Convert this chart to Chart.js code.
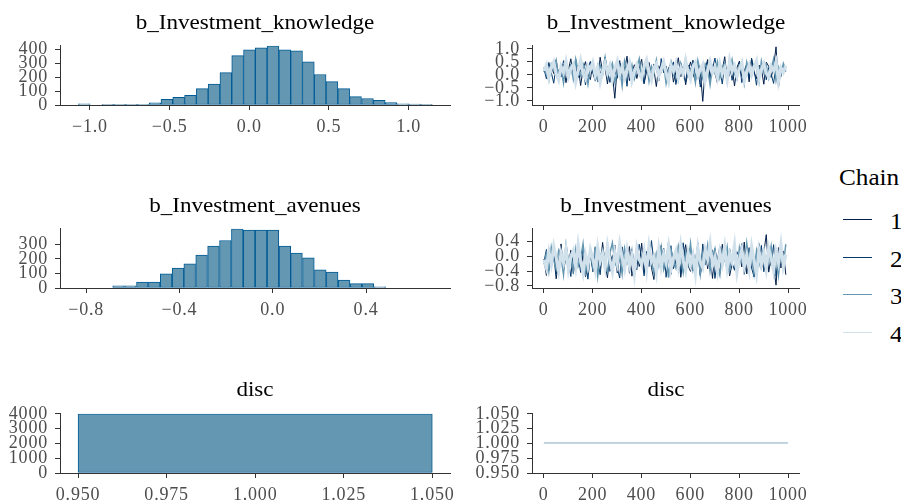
<!DOCTYPE html>
<html>
<head>
<meta charset="utf-8">
<script src="https://cdn.jsdelivr.net/npm/chart.js@4.4.1/dist/chart.umd.min.js"></script>
<style>
  html, body { margin: 0; padding: 0; background: #ffffff; }
  #root { position: relative; width: 901px; height: 502px; overflow: hidden;
          font-family: "Liberation Serif", "Times New Roman", serif; }
  canvas { position: absolute; }
  .title { position: absolute; width: 400px; text-align: center; white-space: nowrap;
           font-size: 21px; line-height: 21px; color: #000; transform: scaleX(1.1);
           transform-origin: center; z-index: 2; }
  .leg { position: absolute; font-size: 22.5px; line-height: 22.5px; color: #000;
         transform: scaleX(1.12); transform-origin: left; white-space: nowrap; z-index: 2; }
  .key { position: absolute; height: 0; width: 29px; border-top: 1.3px solid; z-index: 2; }
</style>
</head>
<body>
<div id="root"></div>
<script>
// ---------------- DATA ----------------
const parameterNames = ["b_Investment_knowledge", "b_Investment_avenues", "disc"];
const chainNames = ["1", "2", "3", "4"];

// Histogram bins (centres) and counts
const knowHistBins = [-1.036, -0.962, -0.888, -0.814, -0.740, -0.666, -0.591, -0.517, -0.443, -0.369,
                      -0.295, -0.221, -0.147, -0.073, 0.001, 0.075, 0.149, 0.223, 0.297, 0.371,
                      0.445, 0.519, 0.593, 0.667, 0.742, 0.816, 0.890, 0.964, 1.038, 1.112];
const knowHistCounts = [8, 0, 5, 5, 5, 5, 15, 40, 55, 70,
                        118, 150, 233, 356, 398, 413, 427, 398, 391, 311,
                        220, 169, 118, 60, 47, 33, 18, 9, 6, 5];

const avenHistBins = [-0.661, -0.610, -0.559, -0.508, -0.457, -0.406, -0.356, -0.305, -0.254, -0.203,
                      -0.152, -0.101, -0.050, 0.001, 0.052, 0.102, 0.153, 0.204, 0.255, 0.306,
                      0.357, 0.408, 0.459];
const avenHistCounts = [15, 15, 40, 40, 97, 137, 165, 226, 288, 326,
                        406, 397, 397, 397, 288, 239, 207, 125, 110, 55,
                        30, 30, 8];

const discHistBins = [1.0];
const discHistCounts = [4000];
const discBinWidth = 0.1;

// Trace plots: iterations kept (every 10th draw) and chain values
const traceIterations = [
  1, 11, 21, 31, 41, 51, 61, 71, 81, 91,
  101, 111, 121, 131, 141, 151, 161, 171, 181, 191,
  201, 211, 221, 231, 241, 251, 261, 271, 281, 291,
  301, 311, 321, 331, 341, 351, 361, 371, 381, 391,
  401, 411, 421, 431, 441, 451, 461, 471, 481, 491,
  501, 511, 521, 531, 541, 551, 561, 571, 581, 591,
  601, 611, 621, 631, 641, 651, 661, 671, 681, 691,
  701, 711, 721, 731, 741, 751, 761, 771, 781, 791,
  801, 811, 821, 831, 841, 851, 861, 871, 881, 891,
  901, 911, 921, 931, 941, 951, 961, 971, 981, 991];

const knowChain1 = [
  0.12, 0.45, -0.21, 0.33, 0.05, 0.58, -0.12, 0.27, 0.41, -0.30,
  0.19, 0.62, -0.05, 0.08, 0.37, -0.41, 0.22, 0.51, 0.01, -0.18,
  0.44, 0.15, -0.26, 0.68, 0.10, 0.29, -0.35, 0.47, 0.03, -0.90,
  0.31, 0.55, -0.09, 0.18, 0.72, -0.22, 0.06, 0.39, -0.14, 0.25,
  0.60, -0.33, 0.13, 0.48, -0.02, 0.21, -0.45, 0.35, 0.09, 0.57,
  -0.17, 0.26, 0.43, -0.28, 0.11, 0.66, -0.07, 0.32, -0.38, 0.17,
  0.50, 0.04, -0.24, 0.40, 0.14, -1.02, 0.23, 0.59, -0.11, 0.36,
  0.07, -0.31, 0.46, 0.20, 0.70, -0.19, 0.02, 0.34, -0.43, 0.28,
  0.53, -0.06, 0.16, 0.42, -0.27, 0.64, 0.10, -0.15, 0.38, 0.24,
  -0.36, 0.49, 0.33, -0.10, 0.30, 1.08, -0.48, 0.19, 0.08, 0.27];
const knowChain2 = [
  0.22, -0.15, 0.48, 0.09, -0.32, 0.36, 0.14, -0.08, 0.55, 0.27,
  -0.20, 0.40, 0.03, 0.61, -0.11, 0.18, 0.33, -0.39, 0.25, 0.52,
  0.07, -0.24, 0.44, 0.12, -0.05, 0.69, 0.20, -0.29, 0.35, 0.16,
  -0.13, 0.47, 0.01, 0.30, -0.44, 0.58, 0.11, -0.18, 0.39, 0.23,
  0.05, -0.34, 0.53, 0.15, -0.02, 0.42, 0.28, -0.23, 0.63, 0.08,
  0.34, -0.14, 0.21, 0.50, -0.37, 0.13, 0.45, 0.00, -0.26, 0.38,
  0.17, 0.57, -0.09, 0.26, -0.47, 0.31, 0.06, 0.49, -0.16, 0.24,
  0.65, -0.04, 0.19, -0.35, 0.41, 0.10, 0.54, -0.21, 0.29, 0.02,
  0.46, -0.30, 0.14, 0.37, -0.12, 0.60, 0.22, -0.40, 0.32, 0.09,
  0.51, -0.19, 0.27, 0.04, -0.33, 0.43, 0.18, -0.07, 0.35, 0.12];
const knowChain3 = [
  0.30, 0.02, -0.22, 0.41, 0.18, 0.56, -0.10, 0.25, -0.31, 0.47,
  0.09, 0.34, -0.16, 0.60, 0.13, -0.04, 0.43, 0.21, -0.36, 0.29,
  0.52, 0.06, -0.19, 0.38, 0.15, 0.67, -0.08, 0.24, 0.45, -0.27,
  0.11, 0.32, -0.42, 0.54, 0.20, 0.03, 0.39, -0.14, 0.26, 0.62,
  -0.06, 0.17, 0.48, -0.25, 0.33, 0.08, 0.57, -0.12, 0.23, 0.40,
  -0.33, 0.14, 0.51, 0.01, 0.28, -0.20, 0.44, 0.10, 0.64, -0.03,
  0.19, 0.36, -0.29, 0.55, 0.12, -0.15, 0.42, 0.24, -0.38, 0.31,
  0.07, 0.50, -0.11, 0.27, 0.46, -0.23, 0.16, 0.59, 0.04, -0.17,
  0.35, 0.21, -0.34, 0.49, 0.13, -0.02, 0.40, 0.26, -0.28, 0.53,
  0.09, 0.37, -0.13, 0.22, 0.61, -0.21, 0.30, 0.05, 0.44, 0.18];
const knowChain4 = [
  0.15, 0.38, -0.12, 0.27, 0.49, 0.03, -0.20, 0.33, 0.11, 0.52,
  -0.07, 0.24, 0.41, -0.25, 0.18, 0.56, 0.06, -0.14, 0.35, 0.20,
  0.47, -0.03, 0.29, -0.28, 0.13, 0.44, 0.08, 0.36, -0.17, 0.25,
  0.53, 0.01, 0.31, -0.09, 0.19, 0.46, -0.22, 0.14, 0.39, 0.05,
  -0.13, 0.34, 0.58, 0.10, -0.19, 0.28, 0.43, -0.05, 0.22, 0.50,
  0.07, -0.26, 0.37, 0.16, 0.45, -0.10, 0.26, 0.02, 0.55, 0.12,
  -0.16, 0.32, 0.48, -0.01, 0.21, 0.40, -0.23, 0.17, 0.51, 0.09,
  0.30, -0.11, 0.42, 0.04, 0.26, -0.18, 0.57, 0.14, 0.35, -0.06,
  0.23, 0.47, -0.21, 0.11, 0.38, 0.00, 0.29, 0.54, -0.15, 0.20,
  0.44, 0.06, -0.08, 0.33, 0.16, 0.49, -0.24, 0.27, 0.10, 0.36];

const avenChain1 = [
  -0.08, -0.52, 0.21, -0.30, 0.05, -0.61, -0.14, 0.33, -0.40, -0.02,
  -0.25, 0.16, -0.47, -0.11, 0.28, -0.35, 0.02, -0.56, -0.18, 0.11,
  -0.42, 0.24, -0.06, -0.33, 0.37, -0.21, -0.58, 0.08, -0.13, 0.30,
  -0.45, -0.01, 0.19, -0.38, -0.09, 0.26, -0.54, -0.16, 0.13, -0.28,
  0.35, -0.44, -0.04, 0.22, -0.31, -0.63, 0.07, -0.19, 0.29, -0.37,
  -0.10, 0.40, -0.49, 0.01, -0.23, 0.18, -0.57, -0.07, 0.31, -0.26,
  -0.41, 0.12, -0.15, 0.36, -0.51, -0.03, 0.25, -0.34, 0.04, -0.60,
  0.20, -0.17, -0.46, 0.32, -0.12, 0.09, -0.53, -0.22, 0.27, -0.39,
  0.06, -0.29, 0.38, -0.48, -0.05, 0.17, -0.55, -0.20, 0.34, -0.36,
  0.10, 0.58, -0.43, -0.01, -0.27, -0.78, 0.23, -0.32, 0.14, -0.50];
const avenChain2 = [
  -0.15, 0.18, -0.39, -0.04, 0.27, -0.48, -0.20, 0.09, -0.33, 0.35,
  -0.10, -0.55, 0.14, -0.27, 0.03, -0.44, 0.30, -0.17, -0.62, 0.07,
  -0.36, 0.21, -0.08, -0.50, 0.16, -0.24, 0.39, -0.41, -0.02, 0.11,
  -0.31, -0.59, 0.25, -0.12, 0.04, -0.46, 0.19, -0.22, -0.37, 0.32,
  -0.06, -0.53, 0.13, -0.28, 0.42, -0.16, -0.43, 0.08, -0.25, 0.22,
  -0.57, -0.01, 0.28, -0.34, -0.11, 0.15, -0.47, 0.36, -0.19, -0.05,
  0.24, -0.40, -0.14, 0.10, -0.52, 0.33, -0.23, 0.02, -0.35, 0.17,
  -0.60, -0.09, 0.26, -0.30, 0.05, -0.45, 0.20, -0.18, -0.38, 0.12,
  -0.03, 0.34, -0.49, -0.13, 0.23, -0.32, -0.56, 0.06, -0.21, 0.29,
  -0.42, -0.07, 0.15, -0.26, 0.31, -0.54, -0.11, 0.18, -0.36, 0.01];
const avenChain3 = [
  -0.22, 0.07, -0.41, 0.24, -0.12, -0.35, 0.15, -0.03, -0.50, 0.30,
  -0.18, 0.04, -0.38, 0.19, -0.27, -0.07, 0.33, -0.45, -0.14, 0.11,
  -0.30, 0.26, -0.55, -0.01, 0.17, -0.24, -0.42, 0.09, 0.36, -0.16,
  -0.33, 0.02, -0.48, 0.21, -0.09, -0.29, 0.14, -0.53, 0.28, -0.05,
  -0.20, 0.12, -0.39, 0.31, -0.13, -0.46, 0.06, -0.26, 0.23, -0.34,
  0.00, -0.58, 0.18, -0.11, -0.31, 0.27, -0.04, -0.44, 0.10, -0.21,
  0.34, -0.36, -0.08, 0.16, -0.49, 0.05, -0.17, 0.29, -0.40, -0.02,
  0.20, -0.28, -0.52, 0.13, -0.10, 0.25, -0.37, -0.06, 0.08, -0.43,
  0.22, -0.15, -0.32, 0.35, -0.19, 0.03, -0.47, 0.14, -0.25, 0.00,
  0.19, -0.39, -0.12, 0.27, -0.30, 0.07, -0.51, 0.11, -0.23, 0.32];
const avenChain4 = [
  -0.10, -0.32, 0.12, -0.21, 0.26, -0.05, -0.40, 0.08, -0.17, 0.20,
  -0.36, -0.02, 0.15, -0.28, 0.31, -0.13, -0.45, 0.04, -0.24, 0.18,
  -0.07, -0.38, 0.23, -0.15, 0.06, -0.30, 0.28, -0.11, -0.42, 0.10,
  -0.19, 0.33, -0.04, -0.34, 0.16, -0.26, 0.01, -0.47, 0.21, -0.09,
  -0.23, 0.13, -0.37, 0.27, -0.14, -0.01, -0.43, 0.19, -0.29, 0.05,
  -0.18, 0.25, -0.35, -0.06, 0.14, -0.27, 0.30, -0.12, -0.39, 0.09,
  -0.22, 0.03, -0.46, 0.22, -0.16, -0.31, 0.17, -0.08, 0.34, -0.25,
  -0.03, -0.41, 0.11, -0.20, 0.24, -0.33, 0.07, -0.14, 0.29, -0.44,
  -0.09, 0.18, -0.28, 0.02, -0.36, 0.26, -0.12, -0.48, 0.15, -0.22,
  0.08, -0.34, 0.21, -0.05, -0.40, 0.12, -0.18, 0.31, -0.27, 0.04];

const discTraceIterations = [1, 1000];
const discChain1 = [1.0, 1.0];
const discChain2 = [1.0, 1.0];
const discChain3 = [1.0, 1.0];
const discChain4 = [1.0, 1.0];

// Tick values
const knowHistXTicks = [-1.0, -0.5, 0.0, 0.5, 1.0];
const knowHistYTicks = [0, 100, 200, 300, 400];
const avenHistXTicks = [-0.8, -0.4, 0.0, 0.4];
const avenHistYTicks = [0, 100, 200, 300];
const discHistXTicks = [0.950, 0.975, 1.000, 1.025, 1.050];
const discHistYTicks = [0, 1000, 2000, 3000, 4000];
const traceXTicks = [0, 200, 400, 600, 800, 1000];
const knowTraceYTicks = [-1.0, -0.5, 0.0, 0.5, 1.0];
const avenTraceYTicks = [-0.8, -0.4, 0.0, 0.4];
const discTraceYTicks = [0.950, 0.975, 1.000, 1.025, 1.050];

// ---------------- STYLE / LAYOUT ----------------
const FONT = '"Liberation Serif", "Times New Roman", serif';
const TICK_COLOR = '#4d4d4d';
const AXIS_COLOR = '#333333';
const HIST_FILL = '#6497b1';
const HIST_LINE = '#005b96';
const CHAIN_COLORS = ['#011f4b', '#03396c', '#6497b1', '#d1e1ec'];
// thinned draws: later chains drawn wider so the overplotted band reads like the full trace
const CHAIN_WIDTHS = [1, 1, 1.5, 3.2];

const ROWS = [{ t: 42, b: 105 }, { t: 225, b: 288 }, { t: 410, b: 473 }];
const COLS = [{ l: 60, r: 450, left: 0, width: 470 }, { l: 532, r: 799, left: 470, width: 350 }];
const TOP_PAD = 14, X_AXIS_H = 29;

const root = document.getElementById('root');

// wider tick lettering, as in the reference
const letterSpacingPlugin = {
  id: 'letterSpacing',
  beforeInit(chart) { chart.ctx.letterSpacing = '0.8px'; },
  beforeUpdate(chart) { chart.ctx.letterSpacing = '0.8px'; },
  beforeDraw(chart) { chart.ctx.letterSpacing = '0.8px'; }
};

function fmt(v, d) {
  const s = Math.abs(v).toFixed(d);
  return (v < -1e-9 ? '\u2212' : '') + s;
}

function axis(min, max, ticks, decimals, tickPad) {
  return {
    type: 'linear', min, max, bounds: 'data', offset: false,
    afterBuildTicks: s => { s.ticks = ticks.map(v => ({ value: v })); },
    ticks: {
      autoSkip: false, maxRotation: 0, minRotation: 0, color: TICK_COLOR,
      font: { family: FONT, size: 18 }, padding: tickPad,
      callback: v => fmt(v, decimals)
    },
    grid: { display: true, drawOnChartArea: false, drawTicks: true, tickLength: 5,
            color: AXIS_COLOR, lineWidth: 1, offset: false },
    border: { display: true, color: AXIS_COLOR, width: 1 }
  };
}

function makeChart(col, row, type, datasets, xScale, yScale) {
  const c = COLS[col], r = ROWS[row];
  const top = r.t - TOP_PAD;
  const height = r.b + X_AXIS_H - top;
  const canvas = document.createElement('canvas');
  canvas.width = c.width; canvas.height = height;
  canvas.style.left = c.left + 'px'; canvas.style.top = top + 'px';
  canvas.style.width = c.width + 'px'; canvas.style.height = height + 'px';
  root.appendChild(canvas);
  const yW = c.l - c.left;
  xScale.afterFit = s => { s.height = X_AXIS_H; };
  yScale.afterFit = s => { s.width = yW; };
  return new Chart(canvas, {
    type,
    data: { datasets },
    plugins: [letterSpacingPlugin],
    options: {
      responsive: false, animation: false, devicePixelRatio: 1,
      layout: { autoPadding: false, padding: { left: 0, top: TOP_PAD, right: c.left + c.width - c.r, bottom: 0 } },
      plugins: { legend: { display: false }, tooltip: { enabled: false }, title: { display: false } },
      scales: { x: xScale, y: yScale }
    }
  });
}

function histDataset(bins, counts, extra) {
  return Object.assign({
    data: bins.map((b, i) => ({ x: b, y: counts[i] })),
    backgroundColor: HIST_FILL, borderColor: HIST_LINE, borderWidth: 1,
    borderSkipped: false, barPercentage: 1, categoryPercentage: 1
  }, extra || {});
}

// chain 1 painted first (bottom), chain 4 last (top): lower `order` is painted on top
function traceDatasets(iters, chains, widths) {
  return chains.map((vals, k) => ({
    data: vals.map((v, i) => ({ x: iters[i], y: v })),
    borderColor: CHAIN_COLORS[k], borderWidth: widths[k], pointRadius: 0, tension: 0,
    borderJoinStyle: 'miter', fill: false, order: chains.length - k
  }));
}

// ---- Histograms (left column)
makeChart(0, 0, 'bar', [histDataset(knowHistBins, knowHistCounts)],
  axis(-1.188, 1.26, knowHistXTicks, 1, 6), axis(0, 427, knowHistYTicks, 0, 7));
makeChart(0, 1, 'bar', [histDataset(avenHistBins, avenHistCounts)],
  axis(-0.912, 0.760, avenHistXTicks, 1, 6), axis(0, 406, avenHistYTicks, 0, 7));
const discXMin = 0.9449, discXMax = 1.055;
makeChart(0, 2, 'bar', [histDataset(discHistBins, discHistCounts,
    { barThickness: 'flex', categoryPercentage: discBinWidth / (discXMax - discXMin) })],
  axis(discXMin, discXMax, discHistXTicks, 3, 6), axis(0, 4000, discHistYTicks, 0, 7));

// ---- Trace plots (right column)
makeChart(1, 0, 'line', traceDatasets(traceIterations, [knowChain1, knowChain2, knowChain3, knowChain4], CHAIN_WIDTHS),
  axis(-48, 1045, traceXTicks, 0, 6), axis(-1.16, 1.12, knowTraceYTicks, 1, 7));
makeChart(1, 1, 'line', traceDatasets(traceIterations, [avenChain1, avenChain2, avenChain3, avenChain4], CHAIN_WIDTHS),
  axis(-48, 1045, traceXTicks, 0, 6), axis(-0.858, 0.737, avenTraceYTicks, 1, 7));
makeChart(1, 2, 'line', traceDatasets(discTraceIterations, [discChain1, discChain2, discChain3, discChain4], [1, 1, 1, 1]),
  axis(-48, 1045, traceXTicks, 0, 6), axis(0.95, 1.05, discTraceYTicks, 3, 7));

// ---- Panel titles
const titleBaselines = [29.3, 212.3, 396.7];
const colCentres = [(COLS[0].l + COLS[0].r) / 2, (COLS[1].l + COLS[1].r) / 2];
parameterNames.forEach((name, r) => {
  colCentres.forEach(cx => {
    const d = document.createElement('div');
    d.className = 'title';
    d.textContent = name;
    d.style.left = (cx - 200) + 'px';
    d.style.top = (titleBaselines[r] - 17.6) + 'px';
    root.appendChild(d);
  });
});

// ---- Legend
const lt = document.createElement('div');
lt.className = 'leg'; lt.textContent = 'Chain';
lt.style.left = '839px'; lt.style.top = (186 - 18.85) + 'px';
root.appendChild(lt);
const keyBaselines = [230, 267.5, 305, 342.5];
chainNames.forEach((n, k) => {
  const line = document.createElement('div');
  line.className = 'key';
  line.style.borderTopColor = CHAIN_COLORS[k];
  line.style.left = '843px';
  line.style.top = (keyBaselines[k] - 11) + 'px';
  root.appendChild(line);
  const t = document.createElement('div');
  t.className = 'leg'; t.textContent = n;
  t.style.left = '890px'; t.style.top = (keyBaselines[k] - 18.85) + 'px';
  root.appendChild(t);
});
</script>
</body>
</html>
